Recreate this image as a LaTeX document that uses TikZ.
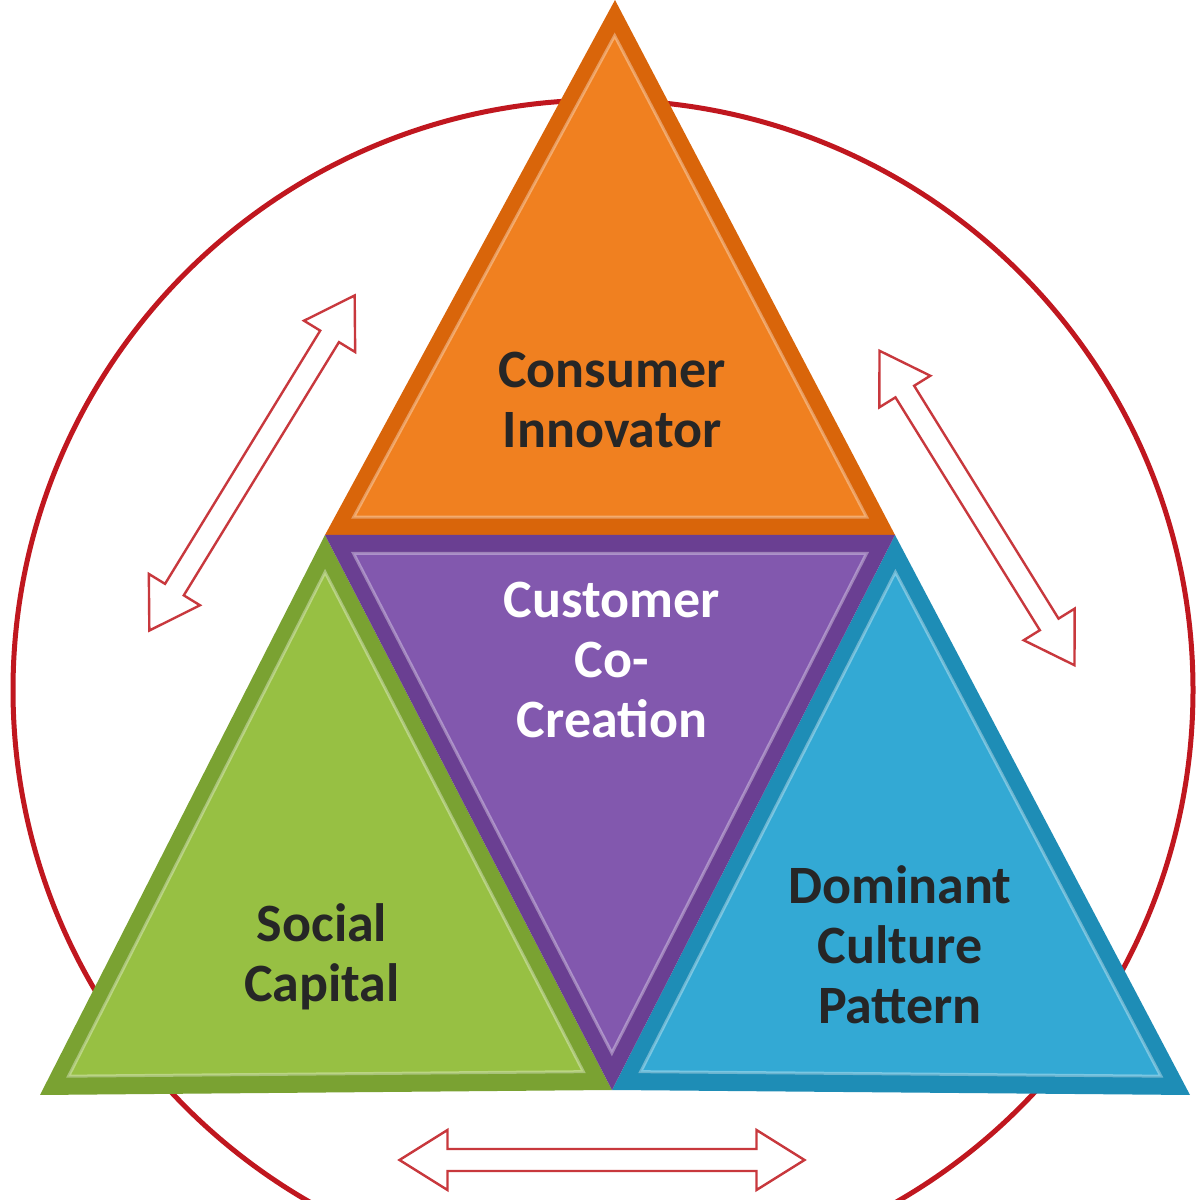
\documentclass[tikz,border=0pt]{standalone}
\usepackage{fontspec}
\setmainfont{Carlito}
\usetikzlibrary{calc}
\definecolor{ored}{HTML}{C0171F}
\definecolor{arred}{HTML}{C8383D}
\definecolor{orD}{HTML}{D9650A}\definecolor{orL}{HTML}{F08020}
\definecolor{puD}{HTML}{6A3F92}\definecolor{puL}{HTML}{8258AE}
\definecolor{grD}{HTML}{7AA232}\definecolor{grL}{HTML}{97C043}
\definecolor{blD}{HTML}{1E8DB6}\definecolor{blL}{HTML}{33A9D4}
\definecolor{txt}{HTML}{262626}
\newcommand\dbl[4]{\begin{scope}[shift={(#1,#2)},rotate=#3]
\draw[arr] ({-#4/2},0) -- ({-#4/2+48},30) -- ({-#4/2+48},11) -- ({#4/2-48},11) -- ({#4/2-48},30) -- ({#4/2},0) -- ({#4/2-48},-30) -- ({#4/2-48},-11) -- ({-#4/2+48},-11) -- ({-#4/2+48},-30) -- cycle;
\end{scope}}
\newcommand\tri[5]{% v1 v2 v3 dark light
\fill[#4] (#1) -- (#2) -- (#3) -- cycle;
\coordinate (cc) at (barycentric cs:#1=1,#2=1,#3=1);
\fill[#5] ($(cc)!0.9!(#1)$) -- ($(cc)!0.9!(#2)$) -- ($(cc)!0.9!(#3)$) -- cycle;
\draw[white,opacity=0.35,line width=1.5pt] ($(cc)!0.9!(#1)$) -- ($(cc)!0.9!(#2)$) -- ($(cc)!0.9!(#3)$) -- cycle;}
\begin{document}
\begin{tikzpicture}[x=0.5pt,y=0.5pt,
 arr/.style={draw=arred,fill=white,line width=1.2pt,line join=miter},
 lab/.style={font=\fontsize{27}{30}\selectfont\bfseries,align=center,text=txt}]
\useasboundingbox (0,0) rectangle (1200,1200);
\clip (0,0) rectangle (1200,1200);
\fill[white] (0,0) rectangle (1200,1200);
\draw[ored,line width=2.5pt] (603,510) circle (590);
\coordinate (A) at (615,1200);
\coordinate (L) at (325,665);
\coordinate (R) at (895,665);
\coordinate (BL) at (40,105);
\coordinate (BR) at (1190,105);
\coordinate (M) at (612,110);
\tri{A}{L}{R}{orD}{orL}
\tri{L}{BL}{M}{grD}{grL}
\tri{R}{M}{BR}{blD}{blL}
\tri{L}{R}{M}{puD}{puL}
\node[lab] (ci) at (612,800) {Consumer\\Innovator};
\node[lab,text=white] (cc2) at (612,540) {Customer\\Co-\\Creation};
\node[lab] (sc) at (322,243) {Social\\Capital};
\node[lab] (dc) at (900,255) {Dominant\\Culture\\Pattern};
\dbl{252}{737}{58.5}{393}
\dbl{977}{692}{-58.2}{370}
\dbl{602}{40}{0}{405}
\end{tikzpicture}
\end{document}
